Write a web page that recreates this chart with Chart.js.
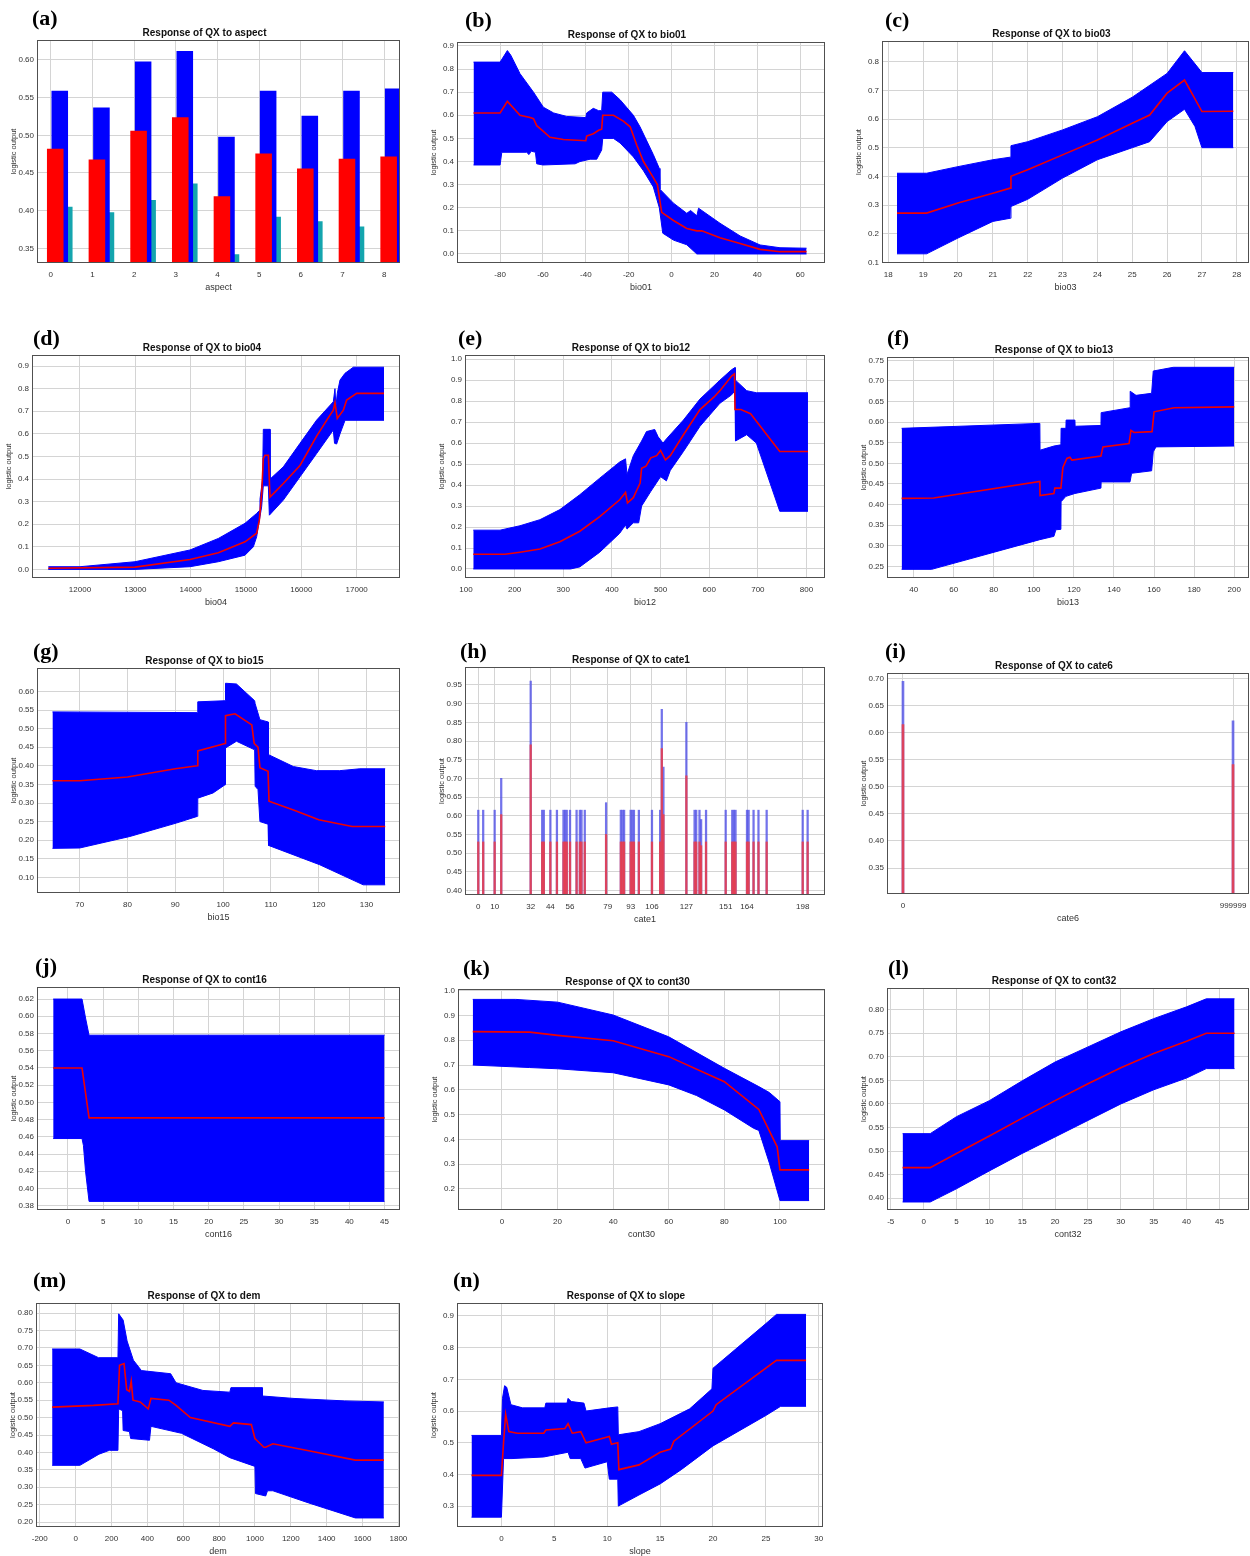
<!DOCTYPE html>
<html><head><meta charset="utf-8">
<script src="https://cdn.jsdelivr.net/npm/chart.js@4.4.1/dist/chart.umd.min.js"></script>
<style>
html,body{margin:0;padding:0;background:#fff;overflow:hidden;}
#wrap{position:relative;width:1250px;height:1556px;overflow:hidden;}
#wrap canvas{position:absolute;}
.lbl{position:absolute;font-family:'Liberation Serif','Times New Roman',serif;font-weight:bold;font-size:22px;line-height:22px;color:#000;}
</style></head>
<body><div id="wrap"></div>
<script>
// ================= DATA =================
// (a) aspect (categorical bars)
const aspectCats  = [0,1,2,3,4,5,6,7,8];
const aspectUpper = [0.559,0.537,0.598,0.612,0.498,0.559,0.526,0.559,0.562];
const aspectMean  = [0.482,0.468,0.506,0.524,0.419,0.476,0.456,0.469,0.472];
const aspectLower = [0.405,0.398,0.414,0.436,0.342,0.392,0.386,0.379,0.383];
const aspectYTicks = [0.35,0.40,0.45,0.50,0.55,0.60];

// (b) bio01
const bio01Upper = [[-92.4,0.83],[-80,0.83],[-76.6,0.88],[-75,0.86],[-70.7,0.78],[-64.4,0.70],[-59.8,0.635],[-55,0.61],[-48.9,0.595],[-40,0.59],[-39.6,0.61],[-36.5,0.63],[-34,0.62],[-32.6,0.62],[-32.1,0.70],[-27.9,0.70],[-24,0.667],[-17.8,0.60],[-14.7,0.55],[-8.5,0.43],[-5.7,0.37],[-5.4,0.28],[0.9,0.22],[7.1,0.176],[8.9,0.188],[11.8,0.165],[12.6,0.198],[22.6,0.133],[32,0.078],[41.3,0.039],[50.6,0.027],[63,0.025]];
const bio01Mean  = [[-92.4,0.61],[-80,0.61],[-76.6,0.66],[-70.7,0.60],[-66,0.59],[-64.4,0.585],[-62.9,0.555],[-59.8,0.53],[-56.7,0.505],[-50.5,0.495],[-40,0.49],[-39.6,0.51],[-36.5,0.52],[-34,0.535],[-32.6,0.54],[-32.1,0.60],[-27.1,0.60],[-22.5,0.575],[-19.3,0.55],[-16.2,0.47],[-13.1,0.40],[-8.5,0.33],[-6.6,0.30],[-4.6,0.18],[0.9,0.145],[7.1,0.11],[11.8,0.10],[14.1,0.10],[22.6,0.07],[32,0.045],[41.3,0.02],[50.6,0.01],[63,0.01]];
const bio01Lower = [[-92.4,0.385],[-80,0.385],[-79.2,0.44],[-67.6,0.44],[-66.5,0.43],[-65.5,0.445],[-63.5,0.44],[-62.9,0.39],[-60,0.385],[-45,0.39],[-42.7,0.40],[-38,0.41],[-34.9,0.41],[-32.6,0.45],[-32.1,0.50],[-27.1,0.50],[-24,0.48],[-17.8,0.42],[-13.1,0.36],[-8.5,0.29],[-5.7,0.20],[-4.1,0.09],[0.9,0.06],[7.1,0.04],[11.8,0.0],[63,0.0]];
const bio01XTicks = [-80,-60,-40,-20,0,20,40,60];
const bio01YTicks = [0.0,0.1,0.2,0.3,0.4,0.5,0.6,0.7,0.8,0.9];

// (c) bio03
const bio03Upper = [[18.25,0.411],[19.1,0.411],[20,0.434],[21,0.458],[21.5,0.467],[21.52,0.507],[22,0.521],[23,0.562],[24,0.608],[25,0.676],[26,0.759],[26.5,0.838],[27,0.762],[27.9,0.762]];
const bio03Mean  = [[18.25,0.272],[19.1,0.272],[20,0.307],[21,0.341],[21.5,0.359],[21.52,0.40],[22,0.423],[23,0.475],[24,0.527],[25,0.585],[25.5,0.614],[26,0.69],[26.5,0.736],[27,0.626],[27.9,0.627]];
const bio03Lower = [[18.25,0.13],[19.1,0.13],[20,0.185],[21,0.243],[21.5,0.254],[21.52,0.295],[22,0.32],[23,0.394],[24,0.458],[25,0.50],[25.5,0.521],[26,0.591],[26.5,0.634],[26.8,0.574],[27,0.50],[27.9,0.50]];
const bio03XTicks = [18,19,20,21,22,23,24,25,26,27,28];
const bio03YTicks = [0.1,0.2,0.3,0.4,0.5,0.6,0.7,0.8];

// (d) bio04
const bio04Upper = [[11428,0.012],[12000,0.012],[12994,0.034],[13988,0.086],[14500,0.137],[14982,0.204],[15193,0.248],[15240,0.26],[15253,0.31],[15300,0.40],[15313,0.62],[15434,0.62],[15436,0.40],[15675,0.454],[15976,0.558],[16277,0.661],[16578,0.742],[16608,0.80],[16625,0.72],[16650,0.78],[16699,0.838],[16789,0.868],[16940,0.895],[17494,0.895]];
const bio04Mean  = [[11428,0.005],[12994,0.01],[13988,0.044],[14500,0.074],[14982,0.122],[15193,0.16],[15241,0.218],[15283,0.336],[15313,0.49],[15343,0.505],[15404,0.505],[15434,0.32],[15675,0.38],[15976,0.46],[16277,0.59],[16500,0.676],[16578,0.705],[16608,0.738],[16650,0.668],[16759,0.705],[16819,0.75],[17000,0.779],[17494,0.779]];
const bio04Lower = [[11428,0.0],[12994,0.0],[13988,0.012],[14500,0.034],[14982,0.063],[15133,0.10],[15193,0.145],[15223,0.19],[15283,0.277],[15313,0.37],[15404,0.37],[15422,0.24],[15675,0.307],[15976,0.41],[16277,0.513],[16578,0.617],[16600,0.558],[16638,0.555],[16699,0.60],[16790,0.66],[17494,0.66]];
const bio04XTicks = [12000,13000,14000,15000,16000,17000];
const bio04YTicks = [0.0,0.1,0.2,0.3,0.4,0.5,0.6,0.7,0.8,0.9];

// (e) bio12
const bio12Upper = [[115,0.185],[170,0.185],[211,0.206],[252,0.235],[293,0.283],[334,0.354],[375,0.433],[416,0.51],[428,0.525],[431,0.45],[444,0.54],[461,0.61],[471,0.655],[488,0.665],[495,0.63],[505,0.6],[512,0.62],[547,0.71],[581,0.81],[622,0.9],[646,0.95],[653,0.96],[654,0.9],[677,0.85],[697,0.84],[803,0.84]];
const bio12Mean  = [[115,0.07],[180,0.07],[211,0.08],[252,0.095],[293,0.13],[334,0.18],[375,0.25],[416,0.33],[428,0.365],[432,0.315],[444,0.34],[452,0.38],[458,0.41],[461,0.48],[470,0.49],[480,0.53],[492,0.54],[500,0.565],[510,0.52],[520,0.54],[547,0.64],[581,0.76],[610,0.82],[622,0.85],[646,0.92],[652,0.93],[653,0.76],[665,0.76],[685,0.74],[745,0.56],[803,0.56]];
const bio12Lower = [[115,0.0],[315,0.0],[334,0.01],[375,0.08],[416,0.17],[428,0.21],[431,0.19],[444,0.22],[455,0.22],[461,0.3],[480,0.37],[500,0.44],[512,0.42],[520,0.47],[547,0.56],[581,0.68],[622,0.79],[646,0.83],[653,0.85],[654,0.61],[677,0.64],[697,0.6],[745,0.275],[803,0.275]];
const bio12XTicks = [100,200,300,400,500,600,700,800];
const bio12YTicks = [0.0,0.1,0.2,0.3,0.4,0.5,0.6,0.7,0.8,0.9,1.0];

// (f) bio13
const bio13Upper = [[34,0.585],[103,0.597],[103.1,0.532],[110,0.542],[113.5,0.545],[113.6,0.585],[116,0.585],[116.1,0.605],[120.5,0.605],[120.6,0.59],[133.5,0.592],[133.6,0.623],[148,0.635],[148.1,0.675],[151,0.665],[158.8,0.67],[159.6,0.724],[169.6,0.733],[200,0.733]];
const bio13Mean  = [[34,0.415],[50,0.416],[103,0.456],[103.1,0.422],[110,0.427],[110.5,0.44],[113.5,0.44],[114.5,0.49],[116.5,0.512],[118,0.515],[119,0.508],[133.5,0.518],[134.5,0.54],[147.5,0.548],[148.5,0.58],[150,0.575],[159,0.577],[160,0.625],[170,0.635],[200,0.637]];
const bio13Lower = [[34,0.243],[49,0.243],[103,0.315],[110,0.323],[111,0.339],[113.5,0.34],[113.6,0.407],[116,0.42],[120.5,0.427],[133.5,0.44],[133.6,0.455],[148,0.455],[148.8,0.476],[158.8,0.482],[159.6,0.528],[161,0.54],[200,0.542]];
const bio13XTicks = [40,60,80,100,120,140,160,180,200];
const bio13YTicks = [0.25,0.30,0.35,0.40,0.45,0.50,0.55,0.60,0.65,0.70,0.75];

// (g) bio15
const bio15Upper = [[64.3,0.545],[94.6,0.543],[94.7,0.572],[100.4,0.575],[100.5,0.622],[102.8,0.62],[106.6,0.575],[106.7,0.567],[107.7,0.524],[109.4,0.518],[109.5,0.43],[114.7,0.398],[119.5,0.387],[124.4,0.387],[128.6,0.392],[133.9,0.392]];
const bio15Mean  = [[64.3,0.36],[70,0.36],[80,0.37],[90,0.392],[94.6,0.4],[94.7,0.44],[100.4,0.46],[100.5,0.535],[102.5,0.54],[106,0.51],[106.5,0.46],[107.3,0.45],[107.7,0.395],[109.4,0.385],[109.6,0.305],[115,0.28],[120,0.255],[127,0.237],[133.9,0.237]];
const bio15Lower = [[64.3,0.178],[70,0.179],[80.5,0.21],[90.2,0.246],[94.6,0.264],[94.7,0.313],[97.9,0.327],[100.4,0.349],[100.5,0.448],[102.8,0.466],[106.6,0.443],[106.7,0.345],[107.3,0.336],[107.7,0.25],[109.4,0.243],[109.5,0.186],[120.2,0.134],[129.3,0.08],[133.9,0.08]];
const bio15XTicks = [70,80,90,100,110,120,130];
const bio15YTicks = [0.10,0.15,0.20,0.25,0.30,0.35,0.40,0.45,0.50,0.55,0.60];

// (h) cate1 (categorical bars)
const cate1Codes = [0,3,10,14,32,39,40,44,48,52,53,54,56,60,62,63,65,78,87,88,89,93,94,95,98,106,111,112,113,127,132,133,135,136,139,151,155,156,157,164,165,168,171,176,198,201];
const cate1Upper = [0.615,0.615,0.615,0.70,0.96,0.615,0.615,0.615,0.615,0.615,0.615,0.615,0.615,0.615,0.615,0.615,0.615,0.635,0.615,0.615,0.615,0.615,0.615,0.615,0.615,0.615,0.615,0.885,0.73,0.85,0.615,0.615,0.615,0.59,0.615,0.615,0.615,0.615,0.615,0.615,0.615,0.615,0.615,0.615,0.615,0.615];
const cate1Mean  = [0.53,0.53,0.53,0.603,0.79,0.53,0.53,0.53,0.53,0.53,0.53,0.53,0.53,0.53,0.53,0.53,0.53,0.55,0.53,0.53,0.53,0.53,0.53,0.53,0.53,0.53,0.53,0.78,0.603,0.707,0.53,0.53,0.53,0.52,0.53,0.53,0.53,0.53,0.53,0.53,0.53,0.53,0.53,0.53,0.53,0.53];
const cate1XTicks = [0,10,32,44,56,79,93,106,127,151,164,198];
const cate1YTicks = [0.40,0.45,0.50,0.55,0.60,0.65,0.70,0.75,0.80,0.85,0.90,0.95];

// (i) cate6
const cate6Codes = [0,999999];
const cate6Upper = [0.695,0.622];
const cate6Mean  = [0.615,0.541];
const cate6XTicks = [0,999999];
const cate6YTicks = [0.35,0.40,0.45,0.50,0.55,0.60,0.65,0.70];

// (j) cont16
const cont16Upper = [[-2.1,0.62],[2,0.62],[2.5,0.598],[3,0.578],[45,0.578]];
const cont16Mean  = [[-2.1,0.54],[2,0.54],[3,0.482],[45,0.482]];
const cont16Lower = [[-2.1,0.458],[2,0.458],[2.2,0.45],[2.5,0.42],[3,0.385],[45,0.385]];
const cont16XTicks = [0,5,10,15,20,25,30,35,40,45];
const cont16YTicks = [0.38,0.40,0.42,0.44,0.46,0.48,0.50,0.52,0.54,0.56,0.58,0.60,0.62];

// (k) cont30
const cont30Upper = [[-10.5,0.965],[5,0.965],[20,0.954],[40,0.902],[60,0.814],[80,0.687],[92.4,0.613],[96.2,0.589],[100,0.552],[100.1,0.395],[110.5,0.395]];
const cont30Mean  = [[-10.5,0.835],[10,0.833],[20,0.82],[40,0.798],[60,0.734],[80,0.633],[92.4,0.521],[99,0.37],[100,0.277],[110.5,0.277]];
const cont30Lower = [[-10.5,0.70],[10,0.69],[20,0.685],[40,0.669],[60,0.62],[70,0.577],[80,0.519],[90.5,0.445],[92.4,0.436],[96.2,0.304],[100,0.153],[110.5,0.153]];
const cont30XTicks = [0,20,40,60,80,100];
const cont30YTicks = [0.2,0.3,0.4,0.5,0.6,0.7,0.8,0.9,1.0];

// (l) cont32
const cont32Upper = [[-3.2,0.537],[1,0.537],[5,0.573],[10,0.607],[15,0.649],[20,0.689],[25,0.721],[30,0.753],[35,0.781],[40,0.806],[43,0.823],[47.3,0.823]];
const cont32Mean  = [[-3.2,0.465],[1,0.465],[5,0.495],[10,0.532],[15,0.57],[20,0.607],[25,0.643],[30,0.677],[35,0.707],[40,0.733],[43,0.75],[47.3,0.75]];
const cont32Lower = [[-3.2,0.392],[1,0.392],[5,0.42],[10,0.458],[15,0.495],[20,0.53],[25,0.565],[30,0.60],[35,0.63],[40,0.655],[43,0.675],[47.3,0.675]];
const cont32XTicks = [-5,0,5,10,15,20,25,30,35,40,45];
const cont32YTicks = [0.40,0.45,0.50,0.55,0.60,0.65,0.70,0.75,0.80];

// (m) dem
const demUpper = [[-131,0.697],[24,0.697],[128,0.672],[236,0.672],[240,0.798],[265,0.78],[287,0.72],[322,0.665],[367,0.635],[530,0.626],[560,0.6],[710,0.578],[860,0.573],[866,0.586],[1040,0.586],[1042,0.562],[1218,0.555],[1500,0.548],[1719,0.545]];
const demMean  = [[-131,0.53],[100,0.535],[236,0.54],[245,0.65],[270,0.655],[285,0.58],[300,0.575],[310,0.605],[320,0.55],[360,0.545],[405,0.525],[420,0.555],[520,0.55],[560,0.535],[640,0.50],[860,0.475],[880,0.485],[980,0.48],[1000,0.44],[1050,0.415],[1060,0.415],[1100,0.425],[1300,0.405],[1560,0.378],[1719,0.378]];
const demLower = [[-131,0.363],[24,0.363],[130,0.395],[188,0.406],[236,0.406],[240,0.525],[262,0.52],[265,0.463],[300,0.46],[307,0.44],[412,0.435],[420,0.475],[590,0.455],[770,0.41],[860,0.385],[1000,0.36],[1003,0.282],[1060,0.275],[1070,0.29],[1100,0.29],[1300,0.255],[1560,0.212],[1719,0.212]];
const demXTicks = [-200,0,200,400,600,800,1000,1200,1400,1600,1800];
const demYTicks = [0.20,0.25,0.30,0.35,0.40,0.45,0.50,0.55,0.60,0.65,0.70,0.75,0.80];

// (n) slope
const slopeUpper = [[-2.83,0.523],[0,0.523],[0.1,0.64],[0.3,0.68],[0.5,0.675],[0.9,0.62],[2,0.61],[4.1,0.61],[4.2,0.625],[6.2,0.625],[6.3,0.64],[6.6,0.63],[7.8,0.625],[8,0.6],[10.2,0.61],[11,0.613],[11.05,0.525],[13,0.535],[15,0.56],[17.8,0.607],[19.9,0.67],[20,0.735],[25,0.876],[26,0.905],[28.8,0.905]];
const slopeMean  = [[-2.83,0.397],[0,0.397],[0.2,0.5],[0.4,0.59],[0.7,0.535],[1.5,0.53],[4,0.53],[4.2,0.54],[6,0.545],[6.3,0.56],[6.7,0.53],[7.5,0.535],[8,0.5],[10.2,0.52],[10.4,0.495],[11,0.5],[11.1,0.415],[13,0.43],[15,0.47],[16,0.48],[16.3,0.505],[20,0.6],[20.3,0.62],[26,0.76],[28.8,0.76]];
const slopeLower = [[-2.83,0.265],[0,0.265],[0.2,0.45],[1,0.45],[4,0.455],[6.3,0.47],[6.5,0.45],[7.5,0.45],[7.9,0.42],[10,0.44],[10.2,0.385],[11,0.385],[11.05,0.30],[13,0.335],[15,0.37],[17,0.415],[20,0.49],[25,0.586],[26.4,0.615],[28.8,0.615]];
const slopeXTicks = [0,5,10,15,20,25,30];
const slopeYTicks = [0.3,0.4,0.5,0.6,0.7,0.8,0.9];

// ================= LAYOUT / STYLE =================
const FONT = "'Liberation Sans', Arial, sans-serif";
Chart.defaults.font.family = FONT;
const YW = 28, TH = 15, XH = 30, PR = 10;
const ASPECT_GROUP_SHIFT = 0.216; // visual offset of grouped bars relative to the tick

const panels = [
 {id:'a', kind:'aspect', title:'Response of QX to aspect', xTitle:'aspect', box:[37,40,400,263], lab:[32,10], xr:[-0.33,8.38], yr:[0.3305,0.6265], xTicks:aspectCats, yTicks:aspectYTicks, yDec:2},
 {id:'b', kind:'band', title:'Response of QX to bio01', xTitle:'bio01', box:[457,42,825,263], lab:[465,12], xr:[-100.1,71.6], yr:[-0.039,0.917], xTicks:bio01XTicks, yTicks:bio01YTicks, yDec:1, up:bio01Upper, mean:bio01Mean, low:bio01Lower},
 {id:'c', kind:'band', title:'Response of QX to bio03', xTitle:'bio03', box:[882,41,1249,263], lab:[885,12], xr:[17.82,28.35], yr:[0.098,0.872], xTicks:bio03XTicks, yTicks:bio03YTicks, yDec:1, up:bio03Upper, mean:bio03Mean, low:bio03Lower},
 {id:'d', kind:'band', title:'Response of QX to bio04', xTitle:'bio04', box:[32,355,400,578], lab:[33,330], xr:[11133,17783], yr:[-0.038,0.949], xTicks:bio04XTicks, yTicks:bio04YTicks, yDec:1, up:bio04Upper, mean:bio04Mean, low:bio04Lower},
 {id:'e', kind:'band', title:'Response of QX to bio12', xTitle:'bio12', box:[465,355,825,578], lab:[458,330], xr:[98,838], yr:[-0.043,1.02], xTicks:bio12XTicks, yTicks:bio12YTicks, yDec:1, up:bio12Upper, mean:bio12Mean, low:bio12Lower},
 {id:'f', kind:'band', title:'Response of QX to bio13', xTitle:'bio13', box:[887,357,1249,578], lab:[887,330], xr:[26.7,207.4], yr:[0.222,0.758], xTicks:bio13XTicks, yTicks:bio13YTicks, yDec:2, up:bio13Upper, mean:bio13Mean, low:bio13Lower},
 {id:'g', kind:'band', title:'Response of QX to bio15', xTitle:'bio15', box:[37,668,400,893], lab:[33,643], xr:[61.07,137.0], yr:[0.058,0.663], xTicks:bio15XTicks, yTicks:bio15YTicks, yDec:2, up:bio15Upper, mean:bio15Mean, low:bio15Lower},
 {id:'h', kind:'cat', title:'Response of QX to cate1', xTitle:'cate1', box:[465,667,825,895], lab:[460,643], xr:[-8.1,211.6], yr:[0.388,0.998], xTicks:cate1XTicks, yTicks:cate1YTicks, yDec:2, codes:cate1Codes, up:cate1Upper, mean:cate1Mean, thick:1.6},
 {id:'i', kind:'cat', title:'Response of QX to cate6', xTitle:'cate6', box:[887,673,1249,894], lab:[885,643], xr:[-48400,1048400], yr:[0.302,0.7105], xTicks:cate6XTicks, yTicks:cate6YTicks, yDec:2, codes:cate6Codes, up:cate6Upper, mean:cate6Mean, thick:2},
 {id:'j', kind:'band', title:'Response of QX to cont16', xTitle:'cont16', box:[37,987,400,1210], lab:[35,958], xr:[-4.4,47.2], yr:[0.375,0.634], xTicks:cont16XTicks, yTicks:cont16YTicks, yDec:2, up:cont16Upper, mean:cont16Mean, low:cont16Lower},
 {id:'k', kind:'band', title:'Response of QX to cont30', xTitle:'cont30', box:[458,989,825,1210], lab:[463,960], xr:[-15.8,116.2], yr:[0.115,1.007], xTicks:cont30XTicks, yTicks:cont30YTicks, yDec:1, up:cont30Upper, mean:cont30Mean, low:cont30Lower},
 {id:'l', kind:'band', title:'Response of QX to cont32', xTitle:'cont32', box:[887,988,1249,1210], lab:[888,960], xr:[-5.57,49.5], yr:[0.375,0.846], xTicks:cont32XTicks, yTicks:cont32YTicks, yDec:2, up:cont32Upper, mean:cont32Mean, low:cont32Lower},
 {id:'m', kind:'band', title:'Response of QX to dem', xTitle:'dem', box:[36,1303,400,1527], lab:[33,1272], xr:[-221,1809], yr:[0.186,0.829], xTicks:demXTicks, yTicks:demYTicks, yDec:2, up:demUpper, mean:demMean, low:demLower},
 {id:'n', kind:'band', title:'Response of QX to slope', xTitle:'slope', box:[457,1303,823,1527], lab:[453,1272], xr:[-4.2,30.4], yr:[0.234,0.941], xTicks:slopeXTicks, yTicks:slopeYTicks, yDec:1, up:slopeUpper, mean:slopeMean, low:slopeLower}
];

const framePlugin = {
  id: 'frame',
  afterDatasetsDraw(chart) {
    const a = chart.chartArea, ctx = chart.ctx;
    ctx.save();
    ctx.strokeStyle = '#505050';
    ctx.lineWidth = 1;
    ctx.strokeRect(Math.round(a.left) + 0.5, Math.round(a.top) + 0.5, Math.round(a.right - a.left) - 1, Math.round(a.bottom - a.top) - 1);
    ctx.restore();
  }
};

const toXY = arr => arr.map(p => ({x: p[0], y: p[1]}));
const wrap = document.getElementById('wrap');

function build(p) {
  const [L, T, R, B] = p.box;
  const cl = L - YW, ct = T - TH, w = R - L + YW + PR, h = B - T + TH + XH;
  const cv = document.createElement('canvas');
  cv.width = w; cv.height = h;
  cv.style.left = cl + 'px'; cv.style.top = ct + 'px';
  cv.style.width = w + 'px'; cv.style.height = h + 'px';
  wrap.appendChild(cv);

  const lab = document.createElement('div');
  lab.className = 'lbl';
  lab.textContent = '(' + p.id + ')';
  lab.style.left = p.lab[0] + 'px';
  lab.style.top = (p.lab[1] - 3) + 'px';
  wrap.appendChild(lab);

  let type, datasets;
  if (p.kind === 'aspect') {
    type = 'bar';
    const mk = (vals, color) => ({
      data: aspectCats.map((c, i) => ({x: c + ASPECT_GROUP_SHIFT, y: vals[i]})),
      backgroundColor: color, borderWidth: 0,
      categoryPercentage: 0.325, barPercentage: 3.67
    });
    datasets = [mk(aspectMean, '#ff0000'), mk(aspectUpper, '#0000ff'), mk(aspectLower, '#14a5ae')];
  } else if (p.kind === 'cat') {
    type = 'bar';
    datasets = [
      {data: p.codes.map((c, i) => ({x: c, y: p.mean[i]})), backgroundColor: 'rgba(238,60,70,0.85)', borderWidth: 0, grouped: false, barThickness: p.thick},
      {data: p.codes.map((c, i) => ({x: c, y: p.up[i]})), backgroundColor: 'rgba(80,80,230,0.8)', borderWidth: 0, grouped: false, barThickness: p.thick}
    ];
  } else {
    type = 'line';
    datasets = [
      {data: toXY(p.mean), borderColor: '#f00000', borderWidth: 1.6, pointRadius: 0, fill: false, tension: 0},
      {data: toXY(p.up), borderColor: '#0000ff', backgroundColor: '#0000ff', borderWidth: 1, pointRadius: 0, fill: '+1', tension: 0},
      {data: toXY(p.low), borderColor: '#0000ff', backgroundColor: '#0000ff', borderWidth: 1, pointRadius: 0, fill: false, tension: 0}
    ];
  }

  new Chart(cv.getContext('2d'), {
    type,
    data: {datasets},
    plugins: [framePlugin],
    options: {
      responsive: false, animation: false, devicePixelRatio: 1,
      layout: {padding: {left: 0, right: PR, top: 0, bottom: 0}},
      plugins: {
        legend: {display: false}, tooltip: {enabled: false},
        title: {display: true, text: p.title, color: '#111', font: {family: FONT, size: 10, weight: 'bold'}, padding: {top: 2, bottom: 1}}
      },
      scales: {
        x: {
          type: 'linear', min: p.xr[0], max: p.xr[1], offset: false,
          afterBuildTicks: s => { s.ticks = p.xTicks.map(v => ({value: v})); },
          afterFit: s => { s.height = XH; s.paddingLeft = 0; s.paddingRight = 0; },
          grid: {color: '#d4d4d4', lineWidth: 1, drawTicks: false, offset: false},
          border: {display: false},
          ticks: {autoSkip: false, maxRotation: 0, minRotation: 0, padding: 7, color: '#333', font: {size: 8}, callback: v => String(v)},
          title: {display: true, text: p.xTitle, color: '#333', font: {size: 9}, padding: 0}
        },
        y: {
          type: 'linear', min: p.yr[0], max: p.yr[1], beginAtZero: false,
          afterBuildTicks: s => { s.ticks = p.yTicks.map(v => ({value: v})); },
          afterFit: s => { s.width = YW; s.paddingTop = 0; s.paddingBottom = 0; },
          grid: {color: '#d4d4d4', lineWidth: 1, drawTicks: false},
          border: {display: false},
          ticks: {autoSkip: false, padding: 3, color: '#333', font: {size: 8}, callback: v => Number(v).toFixed(p.yDec)},
          title: {display: true, text: 'logistic output', color: '#333', font: {size: 7.5}, padding: 0}
        }
      }
    }
  });
}

panels.forEach(build);
</script>
</body></html>
